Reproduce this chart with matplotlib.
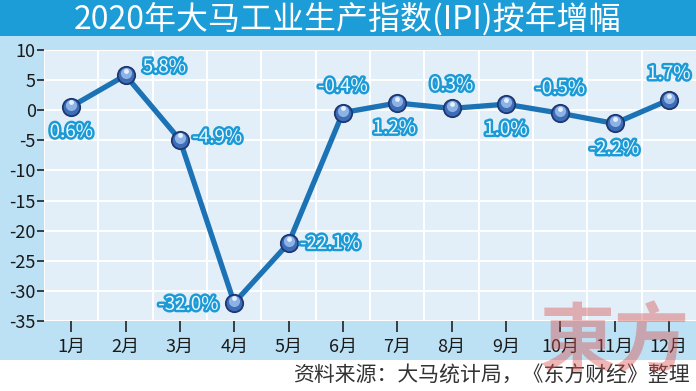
import matplotlib
matplotlib.use("Agg")
import matplotlib.pyplot as plt
import matplotlib.patheffects as pe
from matplotlib.patches import Rectangle
from matplotlib.transforms import ScaledTranslation

plt.rcParams['font.family'] = ['Noto Sans CJK SC', 'DejaVu Sans']

months = ['1月', '2月', '3月', '4月', '5月', '6月', '7月', '8月', '9月', '10月', '11月', '12月']
values = [0.6, 5.8, -4.9, -32.0, -22.1, -0.4, 1.2, 0.3, 1.0, -0.5, -2.2, 1.7]
labels = ['0.6%', '5.8%', '-4.9%', '-32.0%', '-22.1%', '-0.4%', '1.2%', '0.3%', '1.0%', '-0.5%', '-2.2%', '1.7%']
# label offsets in points (dx, dy)
offsets = [(0, -18), (28, 6), (27, 2), (-33, -1), (30, 0), (0, 19),
           (-2, -18), (0, 17), (0, -18), (0, 18), (0, -18), (0, 19)]
yticks = [10, 5, 0, -5, -10, -15, -20, -25, -30, -35]
title = '2020年大马工业生产指数(IPI)按年增幅'
source = '资料来源：大马统计局，《东方财经》整理'

W, H = 696, 391
fig = plt.figure(figsize=(W / 100, H / 100), dpi=100)
fig.patch.set_facecolor('white')

# background panels
fig.patches.append(Rectangle((0, 1 - 360 / H), 1, (360 - 35) / H, transform=fig.transFigure,
                             facecolor='#BDE1F4', edgecolor='none', zorder=-5))
fig.patches.append(Rectangle((0, 1 - 36 / H), 1, 36 / H, transform=fig.transFigure,
                             facecolor='#1C9DD8', edgecolor='none', zorder=-5))
fig.text(0.5, 1 - 19 / H, title, color='white', fontsize=23, ha='center', va='center')

ax = fig.add_axes([44 / W, 1 - 321 / H, (W - 44) / W, (321 - 50) / H])
ax.set_facecolor('#E3EFF8')
x = list(range(1, 13))
ax.set_xlim(0.5, 12.5)
ax.set_ylim(-35, 10)
ax.set_yticks(yticks)
ax.set_yticklabels([str(v) for v in yticks])
ax.set_xticks(x)
ax.set_xticklabels(months)
ax.set_xticks([i + 0.5 for i in range(0, 12)], minor=True)
ax.grid(True, which='minor', axis='x', color='white', lw=1.4)
ax.grid(True, which='major', axis='y', color='white', lw=1.4)
ax.set_axisbelow(True)
for s in ax.spines.values():
    s.set_visible(False)
ax.tick_params(axis='y', which='major', length=5, width=1.2, color='#222222',
               labelsize=13, labelcolor='#1a1a1a', pad=1)
ax.tick_params(axis='x', which='major', length=8, width=1.2, color='#222222',
               labelsize=13, labelcolor='#1a1a1a', pad=4)
ax.tick_params(axis='x', which='minor', length=0)

ax.plot(x, values, color='#1B72B5', lw=3.8, zorder=3, solid_capstyle='round')
ax.plot(x, values, 'o', ms=12.5, mfc='#3E6DB8', mec='#1E3770', mew=1.3, zorder=4)
hl = ax.transData + ScaledTranslation(0, 1.5 / 72, fig.dpi_scale_trans)
ax.plot(x, values, 'o', ms=8, mfc='#8DB3E6', mec='none', zorder=5, transform=hl)
hl2 = ax.transData + ScaledTranslation(0, 3.2 / 72, fig.dpi_scale_trans)
ax.plot(x, values, 'o', ms=3.5, mfc='#E6F0FB', mec='none', zorder=6, transform=hl2)

for xi, v, lab, (dx, dy) in zip(x, values, labels, offsets):
    t = ax.annotate(lab, (xi, v), xytext=(dx, dy), textcoords='offset points',
                    ha='center', va='center', fontsize=13.5, color='#EEF8FE', zorder=7)
    t.set_path_effects([pe.withStroke(linewidth=3.5, foreground='#1C9AD6')])

# watermark
fig.text(615 / W, 1 - 343 / H, '東方', fontsize=54, fontweight='bold', color='#D9534F',
         alpha=0.42, ha='center', va='center', zorder=10)

fig.text(690 / W, 1 - 376 / H, source, fontsize=15, color='#333333',
         ha='right', va='center', style='italic')

fig.savefig('out.png', dpi=100)
